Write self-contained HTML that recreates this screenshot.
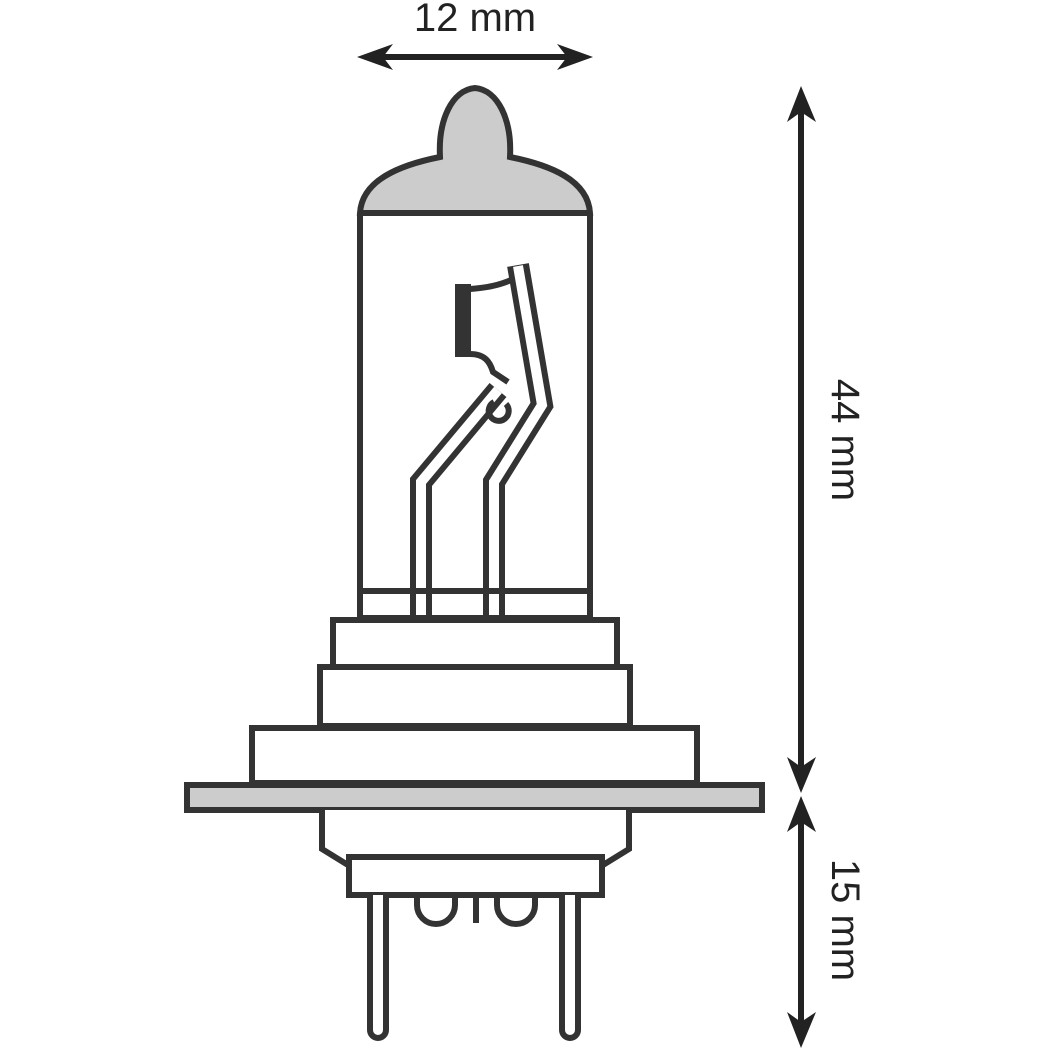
<!DOCTYPE html>
<html><head><style>html,body{margin:0;padding:0;background:#fff}svg{display:block}</style></head>
<body>
<svg width="1050" height="1050" viewBox="0 0 1050 1050" xmlns="http://www.w3.org/2000/svg">
<g fill="none" stroke="#333" stroke-width="6">
<!-- dome -->
<path d="M360,213 C362,180 400,165 440,157 C438,120 452,90 475,88 C498,90 512,120 510,157 C550,165 588,180 590,213 Z" fill="#ccc"/>
<!-- glass -->
<path d="M360,213 L360,618 M590,213 L590,618"/>
<line x1="360" y1="591" x2="590" y2="591"/>
<!-- base stages -->
<rect x="333" y="620" width="284" height="47" fill="#fff"/>
<rect x="320" y="667" width="310" height="59" fill="#fff"/>
<rect x="252" y="728" width="445" height="55" fill="#fff"/>
<rect x="187" y="785" width="575" height="25" fill="#ccc"/>
<path d="M322,810 L322,849 L348,865 L603,865 L629,849 L629,810" fill="#fff"/>
<rect x="349" y="857" width="253" height="38" fill="#fff"/>
<!-- small loops -->
<path d="M417,895 L417,905 A19,19 0 0 0 455,905 L455,895"/>
<path d="M497,895 L497,905 A19,19 0 0 0 535,905 L535,895"/>
<line x1="476" y1="895" x2="476" y2="923"/>
</g>
<!-- pins -->
<path d="M370,895 L370,1030 A8,8 0 0 0 386,1030 L386,895" fill="#fff" stroke="#333" stroke-width="6"/>
<path d="M562,895 L562,1030 A8,8 0 0 0 578,1030 L578,895" fill="#fff" stroke="#333" stroke-width="6"/>
<!-- filament leads -->
<g fill="none" stroke-linejoin="miter">
<path d="M421,618 L421,482 L498,390" stroke="#333" stroke-width="22"/>
<path d="M421,618 L421,482 L498,390" stroke="#fff" stroke-width="10"/>
<path d="M494,618 L494,482 L542,405 L518,265" stroke="#333" stroke-width="22"/>
<path d="M494,618 L494,482 L542,405 L518,266" stroke="#fff" stroke-width="10"/>
</g>
<line x1="362" y1="591" x2="588" y2="591" stroke="#333" stroke-width="6"/>
<line x1="362" y1="618" x2="588" y2="618" stroke="#333" stroke-width="6"/>
<!-- filament coil -->
<rect x="455" y="284" width="16" height="73" fill="#333"/>
<g fill="none" stroke="#333" stroke-width="6">
<path d="M470,289 C485,288 500,285 511,280"/>
<path d="M470,354 C485,354 490,362 493,372 L508,382"/>
<path d="M494,402 A10,10 0 1 0 506,404"/>
</g>
<!-- top dimension -->
<line x1="375" y1="57" x2="575" y2="57" stroke="#222" stroke-width="6"/>
<polygon points="357,57 393,44 383,57 393,70" fill="#222"/>
<polygon points="593,57 557,44 567,57 557,70" fill="#222"/>
<text x="475" y="31" font-family="Liberation Sans, sans-serif" font-size="40" text-anchor="middle" fill="#222">12 mm</text>
<!-- right dimension -->
<line x1="801" y1="100" x2="801" y2="780" stroke="#222" stroke-width="6"/>
<polygon points="801,86 787,122 801,112 816,122" fill="#222"/>
<polygon points="801,793 787,757 801,767 816,757" fill="#222"/>
<line x1="801" y1="805" x2="801" y2="1035" stroke="#222" stroke-width="6"/>
<polygon points="801,796 787,832 801,822 816,832" fill="#222"/>
<polygon points="801,1048 787,1012 801,1022 816,1012" fill="#222"/>
<text transform="translate(832,440) rotate(90)" font-family="Liberation Sans, sans-serif" font-size="40" text-anchor="middle" fill="#222">44 mm</text>
<text transform="translate(832,920) rotate(90)" font-family="Liberation Sans, sans-serif" font-size="40" text-anchor="middle" fill="#222">15 mm</text>
</svg>
</body></html>
